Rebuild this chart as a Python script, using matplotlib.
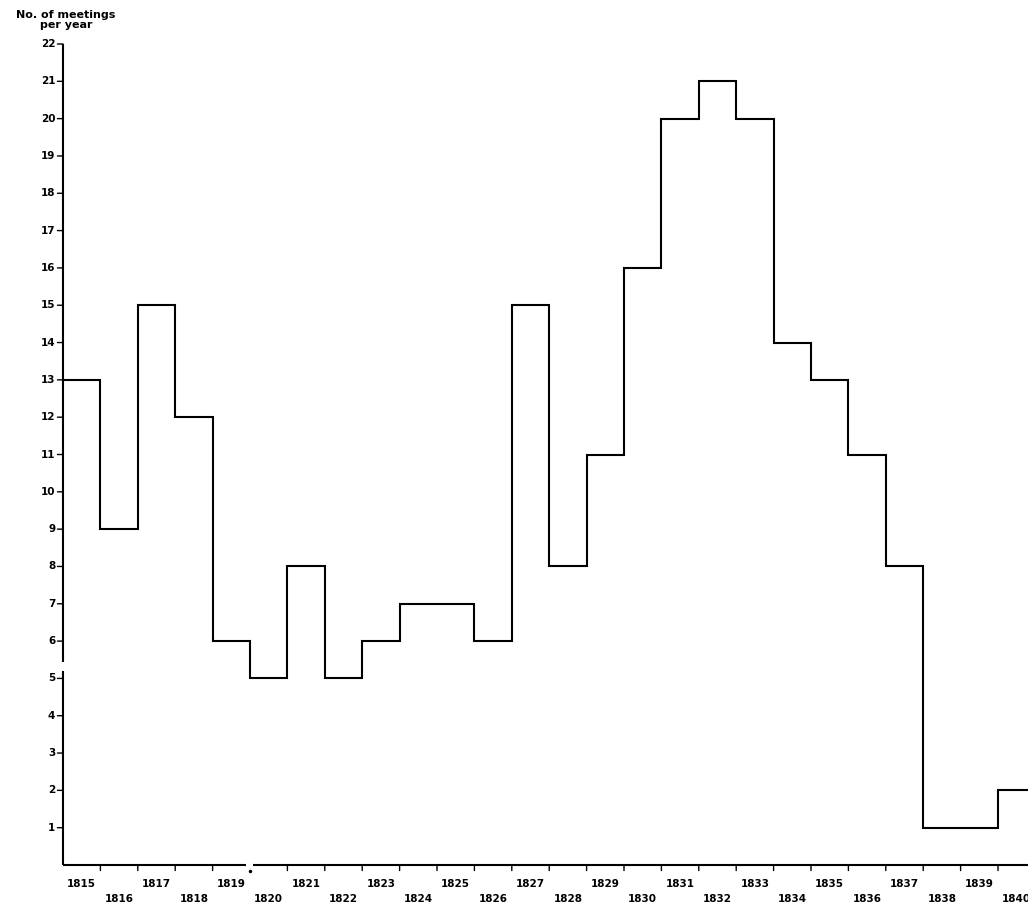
import matplotlib
matplotlib.use("Agg")
import matplotlib.pyplot as plt
import numpy as np

# meetings per year
years = list(range(1815, 1841))
meetings = [13, 9, 15, 12, 6, 5, 8, 5, 6, 7, 7, 6, 15,
            8, 11, 16, 20, 21, 20, 14, 13, 11, 8, 1, 1, 2]
y_ticks = list(range(1, 23))
y_label = "No. of meetings\nper year"

FONT = dict(fontsize=7.5, fontweight="bold", family="DejaVu Sans")
LW = 1.5

fig = plt.figure(figsize=(10.28, 9.06), dpi=100)
ax = fig.add_axes([63 / 1028, 41 / 906, 1 - 63 / 1028, 821 / 906])

edges = np.array(years + [years[-1] + 1], dtype=float)
ax.stairs(meetings, edges, baseline=None, color="black", linewidth=LW)

x0 = years[0]
ax.set_xlim(x0, x0 + 965 / 37.4)
ax.set_ylim(0, 22)
for s in ax.spines.values():
    s.set_visible(False)
ax.set_xticks([])
ax.set_yticks([])

# y axis, broken between 5 and 6
kw = dict(color="black", linewidth=LW, clip_on=False, solid_capstyle="butt")
ax.plot([x0, x0], [0, 5.2], **kw)
ax.plot([x0, x0], [5.45, 22], **kw)
# x axis, broken at 1820
ax.plot([x0, 1819.9], [0, 0], **kw)
ax.plot([1820.08, x0 + 30], [0, 0], **kw)
ax.plot([1820], [0], marker="o", markersize=1.5, color="black",
        transform=ax.transData + matplotlib.transforms.ScaledTranslation(
            0, -4 / 72, fig.dpi_scale_trans), clip_on=False)

# y ticks and labels
for v in y_ticks:
    ax.annotate("", xy=(x0, v), xycoords="data", xytext=(-4, 0),
                textcoords="offset points",
                arrowprops=dict(arrowstyle="-", color="black", lw=1.0,
                                shrinkA=0, shrinkB=0))
    ax.annotate(str(v), xy=(x0, v), xytext=(-5.5, 0), textcoords="offset points",
                ha="right", va="center", annotation_clip=False, **FONT)

# x ticks at year boundaries, staggered year labels
for b in edges[1:-1]:
    if b == 1820:
        continue
    ax.annotate("", xy=(b, 0), xycoords="data", xytext=(0, -4),
                textcoords="offset points", annotation_clip=False,
                arrowprops=dict(arrowstyle="-", color="black", lw=1.0,
                                shrinkA=0, shrinkB=0))
for i, yr in enumerate(years):
    dy = -13.5 if yr % 2 else -24.5
    ax.annotate(str(yr), xy=(yr + 0.5, 0), xytext=(0, dy),
                textcoords="offset points", ha="center", va="center",
                annotation_clip=False, **FONT)

fig.text(66 / 1028, 1 - 20 / 906, y_label, ha="center", va="center",
         linespacing=1.1, fontsize=8, fontweight="bold", family="DejaVu Sans")

fig.savefig("out.png", dpi=100)
